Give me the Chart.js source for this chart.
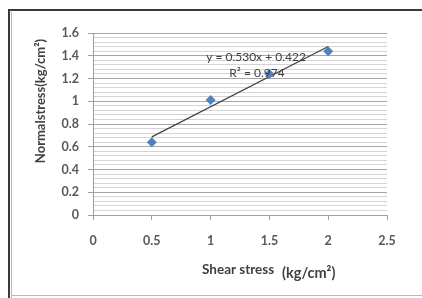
<!DOCTYPE html>
<html>
<head>
<meta charset="utf-8">
<script src="https://cdn.jsdelivr.net/npm/chart.js@4/dist/chart.umd.min.js"></script>
<style>
html,body{margin:0;padding:0;background:#fff;}
#wrap{position:relative;width:422px;height:298px;}
</style>
</head>
<body>
<div id="wrap"><canvas id="c" width="422" height="298"></canvas></div>
<script>
const shearStress = [0.5, 1.0, 1.5, 2.0];
const normalStress = [0.64, 1.01, 1.24, 1.44];
const trendX = [0.5, 2.0];
const trendY = [0.687, 1.482];
const xTicks = [0, 0.5, 1, 1.5, 2, 2.5];
const yTickLabels = [0, 0.2, 0.4, 0.6, 0.8, 1, 1.2, 1.4, 1.6];
const equationText = 'y = 0.530x + 0.422';
const r2Text = 'R² = 0.974';
const xTitleA = 'Shear stress';
const xTitleB = '(kg/cm²)';
const yTitle = 'Normalstress(kg/cm²)';

const isMajor = v => Math.abs(v / 0.2 - Math.round(v / 0.2)) < 1e-6;

const decor = {
  id: 'decor',
  beforeDraw(chart) {
    const ctx = chart.ctx;
    ctx.save();
    ctx.fillStyle = '#fff';
    ctx.fillRect(0, 0, chart.width, chart.height);
    ctx.strokeStyle = '#3a3a3a';
    ctx.lineWidth = 2;
    ctx.beginPath();
    ctx.moveTo(9, 298); ctx.lineTo(9, 10); ctx.lineTo(422, 10);
    ctx.stroke();
    ctx.strokeStyle = '#b8b8b8';
    ctx.lineWidth = 1;
    ctx.beginPath();
    ctx.moveTo(11.5, 298); ctx.lineTo(11.5, 295.5); ctx.lineTo(422, 295.5);
    ctx.moveTo(11.5, 12); ctx.lineTo(11.5, 295.5);
    ctx.stroke();
    ctx.restore();
  },
  afterDraw(chart) {
    const ctx = chart.ctx;
    ctx.save();
    ctx.fillStyle = '#404040';
    ctx.font = '12px Lato';
    ctx.textAlign = 'center';
    ctx.textBaseline = 'middle';
    ctx.fillText(equationText, 256, 57);
    ctx.fillText(r2Text, 257, 73);
    ctx.fillStyle = '#404040';
    ctx.textAlign = 'left';
    ctx.font = 'bold 13.5px Lato';
    ctx.fillText(xTitleA, 202, 270);
    ctx.font = 'bold 14.5px Lato';
    ctx.fillText(xTitleB, 282, 273);
    ctx.translate(41, 101);
    ctx.rotate(-Math.PI / 2);
    ctx.textAlign = 'center';
    ctx.font = 'bold 13px Lato';
    ctx.fillText(yTitle, 0, 0);
    ctx.restore();
  }
};

new Chart(document.getElementById('c'), {
  type: 'scatter',
  data: {
    datasets: [
      {
        type: 'line',
        data: trendX.map((x, i) => ({x: x, y: trendY[i]})),
        borderColor: '#404040',
        borderWidth: 1.2,
        pointRadius: 0,
        fill: false,
        order: 2
      },
      {
        data: shearStress.map((x, i) => ({x: x, y: normalStress[i]})),
        pointStyle: 'rectRot',
        pointRadius: 5,
        backgroundColor: '#4F81BD',
        borderColor: '#4F81BD',
        borderWidth: 0,
        order: 1
      }
    ]
  },
  options: {
    responsive: false,
    animation: false,
    devicePixelRatio: 1,
    layout: {padding: {left: 0, top: 33, right: 35, bottom: 0}},
    plugins: {legend: {display: false}, tooltip: {enabled: false}},
    scales: {
      x: {
        type: 'linear',
        min: 0, max: 2.5,
        afterFit(s) { s.height = 83; },
        afterBuildTicks(s) { s.ticks = xTicks.map(v => ({value: v})); },
        ticks: {
          padding: 13,
          color: '#595959',
          font: {family: 'Lato', size: 12.5, weight: 'bold'},
          callback: v => String(v)
        },
        grid: {drawOnChartArea: false, tickLength: 5, color: '#a0a0a0', tickColor: '#a0a0a0'},
        border: {color: '#a0a0a0'}
      },
      y: {
        min: 0, max: 1.6,
        afterFit(s) { s.width = 93; },
        afterBuildTicks(s) {
          const t = [];
          for (let i = 0; i <= 40; i++) t.push({value: i * 0.04});
          s.ticks = t;
        },
        ticks: {
          padding: 9,
          autoSkip: false,
          color: '#595959',
          font: {family: 'Lato', size: 12.5, weight: 'bold'},
          callback: v => {
            if (!isMajor(v)) return '';
            const found = yTickLabels.find(l => Math.abs(l - v) < 1e-6);
            return String(found);
          }
        },
        grid: {
          tickLength: 5,
          color: c => isMajor(c.tick.value) ? '#a6a6a6' : '#d4d4d4',
          tickColor: c => isMajor(c.tick.value) ? '#a0a0a0' : 'rgba(0,0,0,0)'
        },
        border: {color: '#a0a0a0'}
      }
    }
  },
  plugins: [decor]
});
</script>
</body>
</html>
